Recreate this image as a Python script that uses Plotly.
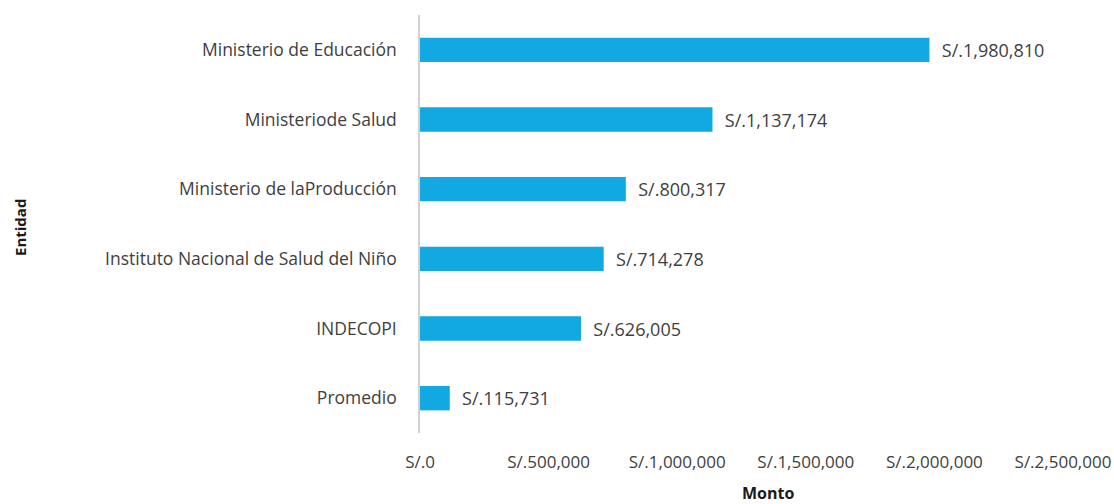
import plotly.graph_objects as go

categorias = ["Ministerio de Educación", "Ministeriode Salud", "Ministerio de laProducción",
              "Instituto Nacional de Salud del Niño", "INDECOPI", "Promedio"]
montos = [1980810, 1137174, 800317, 714278, 626005, 115731]
tick_vals = [0, 500000, 1000000, 1500000, 2000000, 2500000]
tick_text = ["S/.0", "S/.500,000", "S/.1,000,000", "S/.1,500,000", "S/.2,000,000", "S/.2,500,000"]

NB = "\u00a0"
etiquetas = [NB * 2 + "S/." + f"{v:,}" for v in montos]

FONT = "Open Sans"
GREY = "#404040"

fig = go.Figure(go.Bar(
    y=categorias, x=montos, orientation="h",
    marker=dict(color="#12A9E2", line=dict(width=0)),
    width=0.35,
    text=etiquetas, textposition="outside", cliponaxis=False,
    textfont=dict(family=FONT, size=18, color=GREY),
))

L, R, T, B = 420, 51, 15, 71
fig.update_layout(
    width=1114, height=504,
    margin=dict(l=L, r=R, t=T, b=B),
    paper_bgcolor="white", plot_bgcolor="white",
    font=dict(family=FONT, size=17, color=GREY),
    showlegend=False,
    uniformtext=dict(minsize=18, mode="show"),
    xaxis=dict(range=[0, 2500000], tickvals=tick_vals, ticktext=tick_text,
               showgrid=False, zeroline=False, showline=False, automargin=False,
               ticks="", ticklabelstandoff=17, ticklabeloverflow="allow",
               tickfont=dict(family=FONT, size=17, color=GREY)),
    yaxis=dict(autorange="reversed", showgrid=False, zeroline=False, automargin=False,
               showline=True, linecolor="#D0D0D0", linewidth=1.5,
               ticks="", ticklabelstandoff=18,
               tickfont=dict(family=FONT, size=17.5, color=GREY)),
)
pw = 1114 - L - R
ph = 504 - T - B
fig.add_annotation(text="<b>Entidad</b>", x=(20 - L) / pw, y=(504 - B - 228) / ph,
                   xref="paper", yref="paper", showarrow=False, textangle=-90,
                   font=dict(family=FONT, size=15, color="#1a1a1a"),
                   xanchor="center", yanchor="middle")
fig.add_annotation(text="<b>Monto</b>", x=(768 - L) / pw, y=(504 - B - 493) / ph,
                   xref="paper", yref="paper", showarrow=False,
                   font=dict(family=FONT, size=16, color="#1a1a1a"),
                   xanchor="center", yanchor="middle")

fig.write_html("out.html")
